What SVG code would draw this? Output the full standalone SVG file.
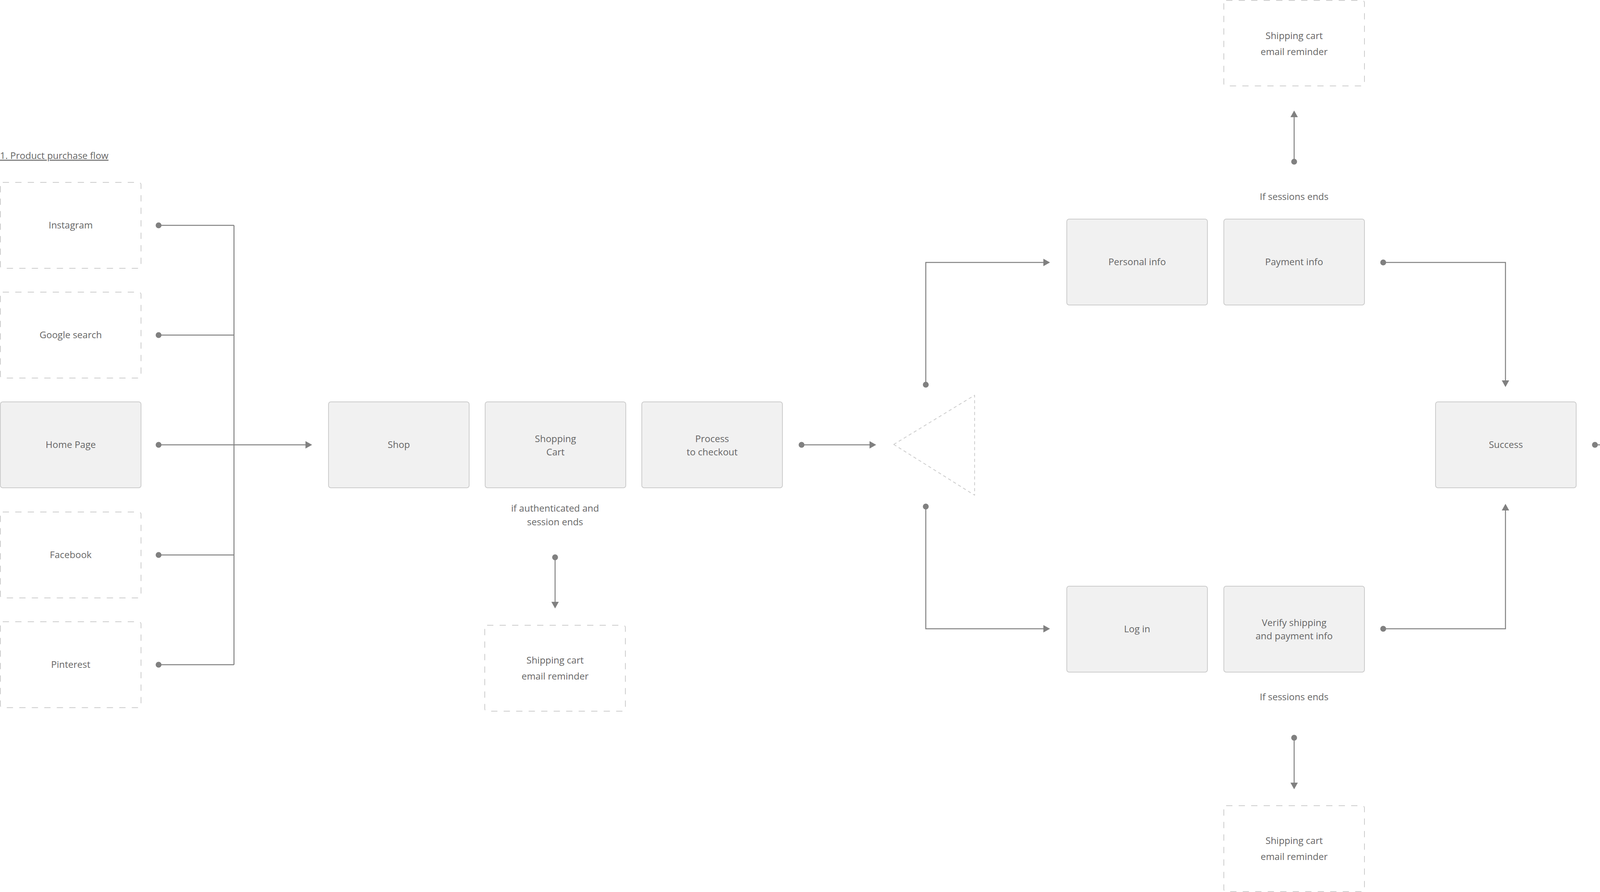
<svg xmlns="http://www.w3.org/2000/svg" width="4678" height="2284" viewBox="0 0 4678 2284">
<style>
  .solid { fill: #f1f1f1; stroke: #cccccc; stroke-width: 2; }
  .dashed { fill: #ffffff; stroke: #cccccc; stroke-width: 2; stroke-dasharray: 16 16; }
  .tri { fill: none; stroke: #cccccc; stroke-width: 2; stroke-dasharray: 8 7; stroke-linejoin: round; }
  .lbl { font-family: "Open Sans", "Noto Sans", "Liberation Sans", sans-serif; font-size: 24px; fill: #666666; text-anchor: middle; }
  .title { font-family: "Open Sans", "Noto Sans", "Liberation Sans", sans-serif; font-size: 24px; fill: #666666; text-decoration: underline; }
  .conn path { fill: none; stroke: #808080; stroke-width: 2.5; marker-start: url(#dot); }
  .conn path.arrow { marker-end: url(#arr); }
  .conn path.bus { marker-start: none; }
</style>
<defs>
  <marker id="dot" markerUnits="userSpaceOnUse" markerWidth="16" markerHeight="16" refX="8" refY="8" orient="auto" overflow="visible">
    <circle cx="8" cy="8" r="7.5" fill="#808080"/>
  </marker>
  <marker id="arr" markerUnits="userSpaceOnUse" markerWidth="18" markerHeight="20" refX="7" refY="9.5" orient="auto" overflow="visible">
    <path d="M0,0 L17,9.5 L0,19 Z" fill="#808080"/>
  </marker>
</defs>
<rect x="0" y="0" width="4678" height="2284" fill="#ffffff"/>

<text class="title" x="0" y="407">1. Product purchase flow</text>

<g id="connectors" class="conn">
  <path d="M406,577 H599"/>
  <path d="M406,858 H599"/>
  <path class="arrow" d="M406,1139 H789"/>
  <path d="M406,1421 H599"/>
  <path d="M406,1702 H599"/>
  <path class="bus" d="M599,577 V1702"/>
  <path class="arrow" d="M1421,1427 V1548"/>
  <path class="arrow" d="M2052,1139 H2233"/>
  <path class="arrow" d="M2370,985 V672 H2678"/>
  <path class="arrow" d="M2370,1297 V1610 H2678"/>
  <path class="arrow" d="M3541,672 H3854 V981"/>
  <path class="arrow" d="M3541,1610 H3854 V1300"/>
  <path class="arrow" d="M3313,414 V293"/>
  <path class="arrow" d="M3313,1889 V2011"/>
  <path class="arrow" d="M4083,1139 H4265"/>
</g>

<g id="instagram"><rect class="dashed" x="1" y="467" width="360" height="220" rx="6"/><text class="lbl" x="181" y="585">Instagram</text></g>
<g id="google"><rect class="dashed" x="1" y="748" width="360" height="220" rx="6"/><text class="lbl" x="181" y="866">Google search</text></g>
<g id="home"><rect class="solid" x="1" y="1029" width="360" height="220" rx="6"/><text class="lbl" x="181" y="1147">Home Page</text></g>
<g id="facebook"><rect class="dashed" x="1" y="1311" width="360" height="220" rx="6"/><text class="lbl" x="181" y="1429">Facebook</text></g>
<g id="pinterest"><rect class="dashed" x="1" y="1592" width="360" height="220" rx="6"/><text class="lbl" x="181" y="1710">Pinterest</text></g>

<g id="shop"><rect class="solid" x="841" y="1029" width="360" height="220" rx="6"/><text class="lbl" x="1021" y="1147">Shop</text></g>
<g id="cart"><rect class="solid" x="1242" y="1029" width="360" height="220" rx="6"/><text class="lbl" x="1422" y="1132">Shopping</text><text class="lbl" x="1422" y="1166">Cart</text></g>
<g id="cart-note"><text class="lbl" x="1421" y="1310">if authenticated and</text><text class="lbl" x="1421" y="1345">session ends</text></g>
<g id="process"><rect class="solid" x="1643" y="1029" width="360" height="220" rx="6"/><text class="lbl" x="1823" y="1132">Process</text><text class="lbl" x="1823" y="1166">to checkout</text></g>
<g id="cart-reminder"><rect class="dashed" x="1241" y="1601" width="360" height="220" rx="6"/><text class="lbl" x="1421" y="1699">Shipping cart</text><text class="lbl" x="1421" y="1740">email reminder</text></g>

<g id="decision"><polygon class="tri" points="2288,1138 2495,1012 2495,1268"/></g>

<g id="top-reminder"><rect class="dashed" x="3133" y="1" width="360" height="219" rx="6"/><text class="lbl" x="3313" y="100">Shipping cart</text><text class="lbl" x="3313" y="141">email reminder</text></g>
<g id="top-note"><text class="lbl" x="3313" y="512">If sessions ends</text></g>
<g id="personal"><rect class="solid" x="2731" y="561" width="360" height="220" rx="6"/><text class="lbl" x="2911" y="679">Personal info</text></g>
<g id="payment"><rect class="solid" x="3133" y="561" width="360" height="220" rx="6"/><text class="lbl" x="3313" y="679">Payment info</text></g>

<g id="login"><rect class="solid" x="2731" y="1501" width="360" height="220" rx="6"/><text class="lbl" x="2911" y="1619">Log in</text></g>
<g id="verify"><rect class="solid" x="3133" y="1501" width="360" height="220" rx="6"/><text class="lbl" x="3313" y="1603">Verify shipping</text><text class="lbl" x="3313" y="1637">and payment info</text></g>
<g id="bottom-note"><text class="lbl" x="3313" y="1793">If sessions ends</text></g>
<g id="bottom-reminder"><rect class="dashed" x="3133" y="2063" width="360" height="220" rx="6"/><text class="lbl" x="3313" y="2161">Shipping cart</text><text class="lbl" x="3313" y="2202">email reminder</text></g>

<g id="success"><rect class="solid" x="3675" y="1029" width="360" height="220" rx="6"/><text class="lbl" x="3855" y="1147">Success</text></g>
<g id="email"><rect class="dashed" x="4317" y="1029" width="360" height="220" rx="6"/><text class="lbl" x="4497" y="1147">Email confirmation</text></g>
</svg>
